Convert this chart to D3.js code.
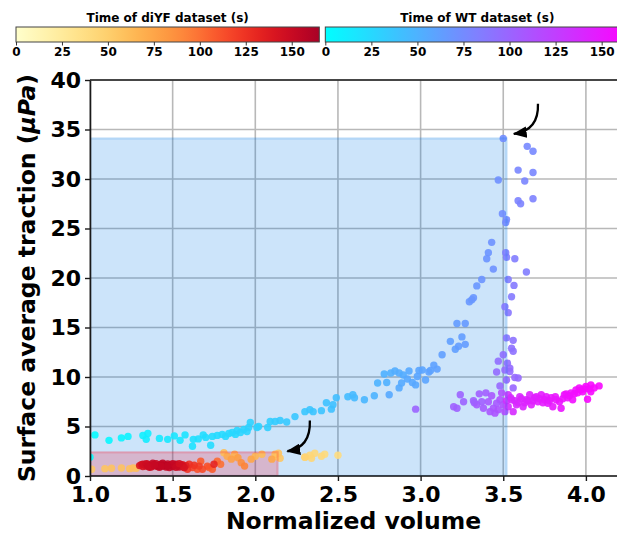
<!DOCTYPE html>
<html>
<head>
<meta charset="utf-8">
<script src="https://cdn.jsdelivr.net/npm/d3@7"></script>
<style>
  html, body { margin: 0; padding: 0; background: #fff; }
  svg { display: block; font-family: "DejaVu Sans", sans-serif; }
</style>
</head>
<body>
<div id="chart"></div>
<script>
// WT dataset: normalized volume, traction (uPa), time (s)
const wtVolume = [1.0, 1.03, 1.115, 1.19, 1.23, 1.32, 1.35, 1.34, 1.42, 1.47, 1.51, 1.545, 1.575, 1.62, 1.625, 1.655, 1.685, 1.73, 1.70, 1.74, 1.77, 1.80, 1.82, 1.84, 1.86, 1.88, 1.89, 1.91, 1.93, 1.95, 1.96, 1.97, 2.02, 2.01, 2.075, 2.09, 2.12, 2.15, 2.19, 2.24, 2.30, 2.33, 2.35, 2.40, 2.43, 2.46, 2.47, 2.49, 2.56, 2.59, 2.60, 2.66, 2.72, 2.74, 2.78, 2.795, 2.81, 2.82, 2.845, 2.87, 2.895, 2.87, 2.885, 2.92, 2.93, 2.95, 2.97, 2.98, 2.99, 3.01, 3.03, 3.05, 3.06, 3.08, 3.10, 3.13, 3.18, 3.21, 3.23, 3.25, 3.27, 3.22, 3.27, 3.295, 3.31, 3.32, 3.34, 3.37, 3.40, 3.41, 3.43, 3.44, 3.47, 3.495, 3.50, 3.515, 3.52, 3.645, 3.68, 3.59, 3.68, 3.63, 3.59, 3.605, 3.68, 3.515, 3.52, 3.57, 3.64, 3.53, 3.565, 3.55, 3.51, 3.53, 3.52, 3.56, 3.55, 3.56, 3.50, 3.47, 3.525, 3.54, 3.54, 3.46, 3.51, 3.57, 3.59, 3.48, 3.52, 3.56, 2.97, 3.24, 3.26, 3.20, 3.22, 3.325, 3.355, 3.395, 3.34, 3.38, 3.41, 3.43, 3.44, 3.45, 3.47, 3.48, 3.49, 3.50, 3.51, 3.46, 3.42, 3.37, 3.32, 3.52, 3.53, 3.53, 3.545, 3.55, 3.56, 3.57, 3.58, 3.59, 3.60, 3.61, 3.62, 3.63, 3.64, 3.65, 3.66, 3.67, 3.68, 3.69, 3.70, 3.71, 3.72, 3.73, 3.74, 3.75, 3.76, 3.77, 3.78, 3.79, 3.80, 3.815, 3.82, 3.84, 3.85, 3.86, 3.87, 3.88, 3.89, 3.90, 3.91, 3.92, 3.93, 3.94, 3.95, 3.96, 3.97, 3.98, 3.99, 4.00, 4.01, 4.02, 4.03, 4.03, 4.05, 4.08];
const wtTraction = [1.9, 4.15, 3.6, 3.85, 4.0, 4.1, 4.3, 3.7, 3.8, 3.7, 4.05, 3.6, 4.15, 3.0, 3.7, 3.75, 4.15, 3.1, 3.9, 4.0, 4.1, 4.2, 4.0, 4.3, 4.4, 4.2, 4.6, 4.4, 4.7, 4.5, 4.9, 5.4, 5.0, 4.9, 4.9, 5.5, 5.5, 5.6, 5.45, 6.0, 6.5, 6.7, 6.5, 6.6, 7.4, 6.75, 7.2, 7.9, 8.0, 8.2, 7.9, 7.7, 8.1, 9.4, 10.3, 9.45, 8.2, 10.4, 10.6, 10.4, 10.2, 8.9, 9.4, 9.8, 10.6, 9.45, 9.2, 10.05, 10.65, 10.7, 9.7, 10.5, 10.65, 11.2, 10.8, 12.25, 13.6, 12.8, 13.1, 14.05, 13.3, 15.4, 15.4, 17.6, 17.8, 18.0, 19.2, 19.85, 21.95, 22.55, 23.6, 20.9, 29.9, 26.5, 34.1, 25.6, 25.9, 33.3, 32.8, 30.9, 30.65, 29.8, 27.8, 27.5, 28.0, 22.55, 22.1, 21.95, 20.6, 19.85, 19.25, 18.1, 17.1, 16.5, 13.95, 13.7, 12.9, 12.6, 12.25, 11.6, 11.4, 10.9, 10.55, 10.5, 10.7, 9.95, 9.9, 9.1, 9.7, 8.9, 6.75, 8.2, 7.5, 7.0, 6.85, 7.4, 8.3, 8.4, 7.2, 6.85, 7.5, 8.1, 6.85, 6.35, 6.7, 7.7, 8.4, 7.2, 6.5, 7.35, 6.5, 7.5, 7.6, 7.6, 8.2, 7.0, 7.9, 7.7, 6.5, 7.6, 7.2, 7.4, 8.0, 7.8, 7.0, 7.4, 7.7, 7.6, 8.2, 7.2, 7.6, 7.9, 8.0, 7.5, 7.8, 8.2, 7.4, 7.7, 8.0, 7.35, 7.6, 7.9, 7.0, 8.0, 7.7, 7.5, 6.85, 7.8, 8.2, 8.3, 7.9, 8.1, 8.4, 7.7, 8.3, 8.7, 8.4, 8.9, 8.7, 8.5, 8.8, 9.05, 7.75, 8.8, 8.5, 9.2, 8.9, 9.1];
const wtTime = [0, 3, 5, 7, 8, 10, 11, 12, 14, 15, 16, 17, 18, 19, 20, 21, 22, 23, 22, 23, 24, 24, 25, 25, 26, 26, 27, 27, 28, 28, 29, 29, 30, 30, 31, 32, 33, 34, 35, 36, 37, 38, 38, 39, 40, 41, 41, 42, 44, 45, 45, 47, 49, 50, 51, 51, 56, 52, 53, 54, 54, 55, 55, 56, 56, 57, 57, 58, 58, 59, 59, 60, 60, 61, 61, 62, 63, 63, 64, 64, 65, 65, 66, 67, 67, 68, 68, 69, 70, 70, 71, 71, 72, 73, 74, 75, 75, 77, 77, 78, 78, 79, 80, 80, 81, 82, 82, 84, 84, 85, 86, 86, 87, 88, 90, 91, 92, 92, 93, 94, 94, 95, 95, 96, 96, 97, 97, 98, 98, 99, 100, 101, 101, 102, 102, 103, 104, 105, 106, 107, 108, 109, 110, 111, 112, 113, 114, 115, 116, 108, 110, 104, 103, 136, 136, 137, 137, 138, 138, 139, 139, 140, 140, 141, 141, 142, 142, 143, 143, 144, 144, 145, 145, 146, 146, 147, 147, 148, 148, 149, 149, 150, 150, 151, 151, 152, 152, 153, 153, 154, 154, 155, 155, 156, 156, 157, 157, 158, 158, 159, 159, 160, 160, 160, 160, 160, 160, 160];

// diYF dataset: normalized volume, traction (uPa), time (s)
const yfVolume = [2.50, 2.42, 2.40, 2.36, 2.34, 2.33, 2.30, 2.30, 2.15, 2.13, 2.12, 2.14, 2.04, 2.0, 1.81, 2.10, 1.875, 1.83, 1.855, 1.975, 1.895, 1.915, 1.935, 1.01, 1.09, 1.13, 1.19, 1.24, 1.26, 1.28, 1.79, 1.77, 1.72, 1.74, 1.67, 1.71, 1.65, 1.68, 1.62, 1.66, 1.63, 1.59, 1.60, 1.57, 1.75, 1.58, 1.56, 1.30, 1.31, 1.32, 1.33, 1.34, 1.35, 1.36, 1.37, 1.38, 1.39, 1.40, 1.41, 1.42, 1.43, 1.44, 1.45, 1.46, 1.47, 1.48, 1.49, 1.50, 1.51, 1.52, 1.53, 1.54, 1.55, 1.56, 1.57, 1.32, 1.34, 1.36, 1.38, 1.40, 1.42, 1.44, 1.46, 1.48, 1.50, 1.52, 1.54, 1.43, 1.47, 1.35, 1.39];
const yfTraction = [2.1, 2.2, 2.0, 2.3, 1.8, 2.1, 1.9, 1.9, 1.8, 1.95, 2.2, 2.3, 2.2, 2.0, 2.35, 1.7, 2.2, 2.0, 1.7, 1.7, 1.85, 1.35, 1.0, 0.68, 0.74, 0.78, 0.81, 0.74, 0.81, 0.78, 1.18, 1.5, 0.85, 0.68, 1.5, 1.0, 0.68, 0.68, 0.85, 1.0, 1.08, 0.68, 1.18, 0.85, 1.18, 1.05, 1.15, 1.05, 1.15, 0.95, 1.10, 1.00, 1.20, 1.05, 0.92, 1.15, 1.02, 1.25, 0.95, 1.10, 1.20, 1.00, 1.12, 0.90, 1.22, 1.05, 1.15, 0.95, 1.08, 1.18, 1.00, 0.90, 1.10, 1.02, 0.85, 1.20, 1.25, 0.88, 1.30, 1.05, 0.88, 1.30, 1.05, 0.85, 1.25, 0.88, 1.25, 1.0, 1.0, 1.0, 1.12];
const yfTime = [40, 42, 43, 44, 45, 45, 47, 47, 55, 55, 60, 58, 62, 65, 62, 75, 68, 72, 78, 75, 80, 88, 92, 56, 57, 58, 58, 59, 60, 60, 100, 102, 105, 108, 108, 112, 112, 115, 118, 120, 124, 124, 126, 128, 132, 135, 138, 140, 141, 142, 143, 144, 145, 146, 147, 148, 149, 150, 150, 151, 151, 152, 152, 153, 153, 154, 154, 155, 155, 154, 152, 150, 148, 145, 142, 146, 148, 150, 152, 153, 154, 155, 155, 154, 152, 150, 145, 153, 154, 149, 151];

const xTicks = [1.0, 1.5, 2.0, 2.5, 3.0, 3.5, 4.0];
const yTicks = [0, 5, 10, 15, 20, 25, 30, 35, 40];
const timeTicks = [0, 25, 50, 75, 100, 125, 150];

// shaded extents [x0, x1, y0, y1] and annotation arrows [start, end] in data units
const wtBox = [1.0, 3.52, 0, 34.1];
const yfBox = [1.0, 2.135, 0, 2.4];
const arrows = [[[3.71, 37.6], [3.54, 34.5]], [[2.33, 5.6], [2.17, 2.45]]];

const width = 617;
const height = 534;
const marginLeft = 90;
const marginTop = 80;
const marginBottom = 58;

const svg = d3.select("#chart")
  .append("svg")
  .attr("width", width)
  .attr("height", height)
  .attr("viewBox", [0, 0, width, height]);

const x = d3.scaleLinear().domain([1.0, 4.2]).range([marginLeft, marginLeft + 3.2 * 165.3]);
const y = d3.scaleLinear().domain([0, 40]).range([height - marginBottom, marginTop]);

const colorYF = d3.scaleSequential(d3.interpolateYlOrRd).domain([0, 180]);
const colorWT = d3.scaleSequential(d3.interpolateRgb("#00ffff", "#ff00ff")).domain([0, 165]);

svg.append("clipPath").attr("id", "plot-clip")
  .append("rect")
  .attr("x", marginLeft).attr("y", marginTop)
  .attr("width", width - marginLeft).attr("height", y(0) - marginTop);

// grid
const grid = svg.append("g").attr("stroke", "#b8b8b8").attr("stroke-width", 1.6);
grid.selectAll("line.gx").data(xTicks).join("line")
  .attr("x1", d => x(d)).attr("x2", d => x(d))
  .attr("y1", y(0)).attr("y2", y(40));
grid.selectAll("line.gy").data(yTicks).join("line")
  .attr("x1", x(1.0)).attr("x2", width)
  .attr("y1", d => y(d)).attr("y2", d => y(d));

const plot = svg.append("g").attr("clip-path", "url(#plot-clip)");

// shaded regions
const boxes = [
  {b: wtBox, c: "rgb(0,120,230)"},
  {b: yfBox, c: "rgb(255,0,25)"}
];
plot.append("g").selectAll("rect").data(boxes).join("rect")
  .attr("x", d => x(d.b[0])).attr("y", d => y(d.b[3]))
  .attr("width", d => x(d.b[1]) - x(d.b[0])).attr("height", d => y(d.b[2]) - y(d.b[3]))
  .attr("fill", d => d.c).attr("fill-opacity", 0.2);

// scatter
const yfData = yfVolume.map((v, i) => ({v, t: yfTraction[i], time: yfTime[i]}));
const wtData = wtVolume.map((v, i) => ({v, t: wtTraction[i], time: wtTime[i]}));

plot.append("g").selectAll("circle").data(yfData).join("circle")
  .attr("cx", d => x(d.v)).attr("cy", d => y(d.t)).attr("r", 3.7)
  .attr("fill", d => colorYF(d.time)).attr("fill-opacity", 0.9);

plot.append("g").selectAll("circle").data(wtData).join("circle")
  .attr("cx", d => x(d.v)).attr("cy", d => y(d.t)).attr("r", 3.7)
  .attr("fill", d => colorWT(d.time)).attr("fill-opacity", 0.9);

// box outlines drawn over the points
plot.append("g").selectAll("rect").data(boxes).join("rect")
  .attr("x", d => x(d.b[0])).attr("y", d => y(d.b[3]))
  .attr("width", d => x(d.b[1]) - x(d.b[0])).attr("height", d => y(d.b[2]) - y(d.b[3]))
  .attr("fill", "none")
  .attr("stroke", d => d.c).attr("stroke-opacity", 0.2).attr("stroke-width", 2.2);

// axes
const gx = svg.append("g")
  .attr("transform", `translate(0,${y(0)})`)
  .call(d3.axisBottom(x).tickValues(xTicks).tickFormat(d3.format(".1f")).tickSize(5).tickPadding(5).tickSizeOuter(0));
const gy = svg.append("g")
  .attr("transform", `translate(${marginLeft},0)`)
  .call(d3.axisLeft(y).tickValues(yTicks).tickFormat(d3.format("d")).tickSize(5).tickPadding(4).tickSizeOuter(0));

[gx, gy].forEach(g => {
  g.select(".domain").attr("stroke", "#1a1a1a").attr("stroke-width", 1.6);
  g.selectAll(".tick line").attr("stroke", "#1a1a1a").attr("stroke-width", 1.4);
  g.selectAll(".tick text")
    .attr("fill", "#000")
    .attr("font-family", "DejaVu Sans")
    .attr("font-weight", "bold")
    .attr("font-size", 22);
});
gx.select(".domain").attr("d", `M${marginLeft},0H${width}`);

svg.append("line")
  .attr("x1", marginLeft).attr("x2", width)
  .attr("y1", marginTop).attr("y2", marginTop)
  .attr("stroke", "#1a1a1a").attr("stroke-width", 1.6);

// axis labels
svg.append("text")
  .attr("x", (marginLeft + width) / 2)
  .attr("y", 529)
  .attr("text-anchor", "middle")
  .attr("font-weight", "bold")
  .attr("font-size", 23.5)
  .text("Normalized volume");

const ylab = svg.append("text")
  .attr("transform", `translate(34.5,${(marginTop + y(0)) / 2}) rotate(-90)`)
  .attr("text-anchor", "middle")
  .attr("font-weight", "bold")
  .attr("font-size", 23.5);
ylab.append("tspan").text("Surface average traction (");
ylab.append("tspan").attr("font-style", "italic").text("μPa");
ylab.append("tspan").text(")");

// arrows
const defs = svg.append("defs");
defs.append("marker")
  .attr("id", "head")
  .attr("viewBox", "0 0 12 10")
  .attr("refX", 11).attr("refY", 5)
  .attr("markerUnits", "userSpaceOnUse")
  .attr("markerWidth", 14).attr("markerHeight", 12)
  .attr("orient", "auto")
  .append("path").attr("d", "M0,0L12,5L0,10Z").attr("fill", "#000");

svg.append("g").selectAll("path").data(arrows).join("path")
  .attr("d", d => {
    const sx = x(d[0][0]), sy = y(d[0][1]);
    const ex = x(d[1][0]), ey = y(d[1][1]);
    return `M${sx},${sy}Q${sx + 1},${ey - 4} ${ex + 4},${ey - 0.5}`;
  })
  .attr("fill", "none")
  .attr("stroke", "#000")
  .attr("stroke-width", 2.3)
  .attr("marker-end", "url(#head)");

// colorbars
function colorbar(color, x0, x1, title, id) {
  const cb = d3.scaleLinear().domain([0, 165]).range([x0, x1]);
  const grad = defs.append("linearGradient").attr("id", id)
    .attr("x1", "0%").attr("x2", "100%");
  grad.selectAll("stop").data(d3.range(0, 1.0001, 0.05)).join("stop")
    .attr("offset", d => `${d * 100}%`)
    .attr("stop-color", d => color(d * 165));
  const g = svg.append("g");
  g.append("rect")
    .attr("x", x0).attr("y", 27).attr("width", x1 - x0).attr("height", 15)
    .attr("fill", `url(#${id})`)
    .attr("stroke", "#444").attr("stroke-width", 1);
  g.append("text")
    .attr("x", (x0 + x1) / 2).attr("y", 22)
    .attr("text-anchor", "middle")
    .attr("font-weight", "bold").attr("font-size", 12)
    .text(title);
  const ax = g.append("g").attr("transform", "translate(0,42)")
    .call(d3.axisBottom(cb).tickValues(timeTicks).tickSize(3.5).tickPadding(1.5).tickSizeOuter(0));
  ax.select(".domain").remove();
  ax.selectAll(".tick line").attr("stroke", "#333");
  ax.selectAll(".tick text")
    .attr("fill", "#000")
    .attr("font-family", "DejaVu Sans")
    .attr("font-weight", "bold").attr("font-size", 12);
}

colorbar(colorYF, 16, 319.3, "Time of diYF dataset (s)", "grad-yf");
colorbar(colorWT, 325.3, 629.3, "Time of WT dataset (s)", "grad-wt");
</script>
</body>
</html>
